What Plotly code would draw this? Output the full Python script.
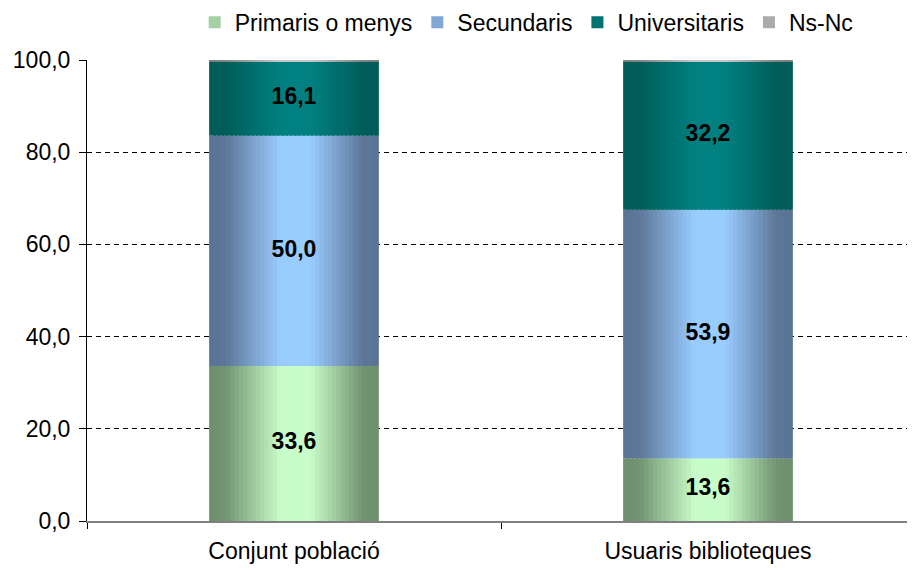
import plotly.graph_objects as go

categories = ["Conjunt població", "Usuaris biblioteques"]
series_names = ["Primaris o menys", "Secundaris", "Universitaris", "Ns-Nc"]
primaris = [33.6, 13.6]
secundaris = [50.0, 53.9]
universitaris = [16.1, 32.2]
nsnc = [0.3, 0.3]
y_ticks = [0, 20, 40, 60, 80, 100]

series_values = [primaris, secundaris, universitaris, nsnc]
show_label = [True, True, True, False]
# (dark, light) for horizontal gradient
grad = [((0x6e, 0x8f, 0x6e), (0xc8, 0xfc, 0xc8)),
        ((0x5a, 0x73, 0x94), (0x99, 0xcc, 0xff)),
        ((0x00, 0x5c, 0x58), (0x00, 0x80, 0x80)),
        ((0x80, 0x80, 0x80), (0xc8, 0xc8, 0xc8))]

def light_factor(t):
    stops = [(0.0, 0.0), (0.1, 0.05), (0.42, 1.0), (0.6, 1.0), (0.9, 0.05), (1.0, 0.0)]
    for (a, fa), (b, fb) in zip(stops[:-1], stops[1:]):
        if a <= t <= b:
            return fa + (fb - fa) * (t - a) / (b - a)
    return 0.0

def mix(d, l, f):
    return "rgb(%d,%d,%d)" % tuple(round(d[k] + (l[k] - d[k]) * f) for k in range(3))

FONT = "Liberation Sans, Arial, sans-serif"
BW = 0.41
N = 40
fig = go.Figure()

bases = [0.0] * len(categories)
label_x, label_y, label_t = [], [], []
for si, (name, vals) in enumerate(zip(series_names, series_values)):
    d, l = grad[si]
    for i in range(N):
        t = (i + 0.5) / N
        off = -BW / 2 + i * BW / N
        w = min(BW / N * 1.6, BW / 2 - off)
        fig.add_trace(go.Bar(
            x=categories, y=vals, base=bases[:],
            width=[w] * len(categories), offset=[off] * len(categories),
            marker=dict(color=mix(d, l, light_factor(t)), line=dict(width=0)),
            name=name, legendgroup=name, showlegend=False, hoverinfo="skip"))
    # legend entry
    fig.add_trace(go.Bar(
        x=[categories[0]], y=[0], name=name, legendgroup=name, showlegend=True,
        marker=dict(color=mix(d, l, 0.6), line=dict(width=0)), hoverinfo="skip"))
    if show_label[si]:
        for ci, c in enumerate(categories):
            label_x.append(c)
            label_y.append(bases[ci] + vals[ci] / 2)
            label_t.append(f"{vals[ci]:.1f}".replace(".", ","))
    bases = [b + v for b, v in zip(bases, vals)]

fig.add_trace(go.Scatter(
    x=label_x, y=label_y, text=label_t, mode="text",
    textfont=dict(family=FONT, size=23, color="black", weight="bold"),
    showlegend=False, hoverinfo="skip"))

fig.update_layout(
    width=907, height=562,
    margin=dict(l=79, r=0, t=52, b=49, autoexpand=False),
    paper_bgcolor="white", plot_bgcolor="white",
    barmode="overlay",
    separators=",.",
    font=dict(family=FONT, size=23, color="black"),
    showlegend=True,
    legend=dict(orientation="h", x=0.531, xanchor="center", y=1.082, yanchor="middle",
                font=dict(size=23), itemwidth=30, tracegroupgap=0,
                traceorder="normal", bgcolor="rgba(0,0,0,0)"),
    xaxis=dict(type="category", showline=True, linecolor="#808080", linewidth=2,
               ticks="outside", tickson="boundaries", ticklen=6, tickcolor="black",
               showgrid=False, tickfont=dict(size=23), range=[-0.5, 1.5],
               ticklabelstandoff=8),
    yaxis=dict(range=[0, 100], tickvals=y_ticks, tickformat=".1f",
               showline=True, linecolor="black", linewidth=1,
               ticks="outside", ticklen=7, tickcolor="black",
               showgrid=True, gridcolor="black", griddash="5px,4px", gridwidth=1,
               zeroline=False, tickfont=dict(size=23), ticklabelstandoff=4),
)
fig.write_html("out.html")
